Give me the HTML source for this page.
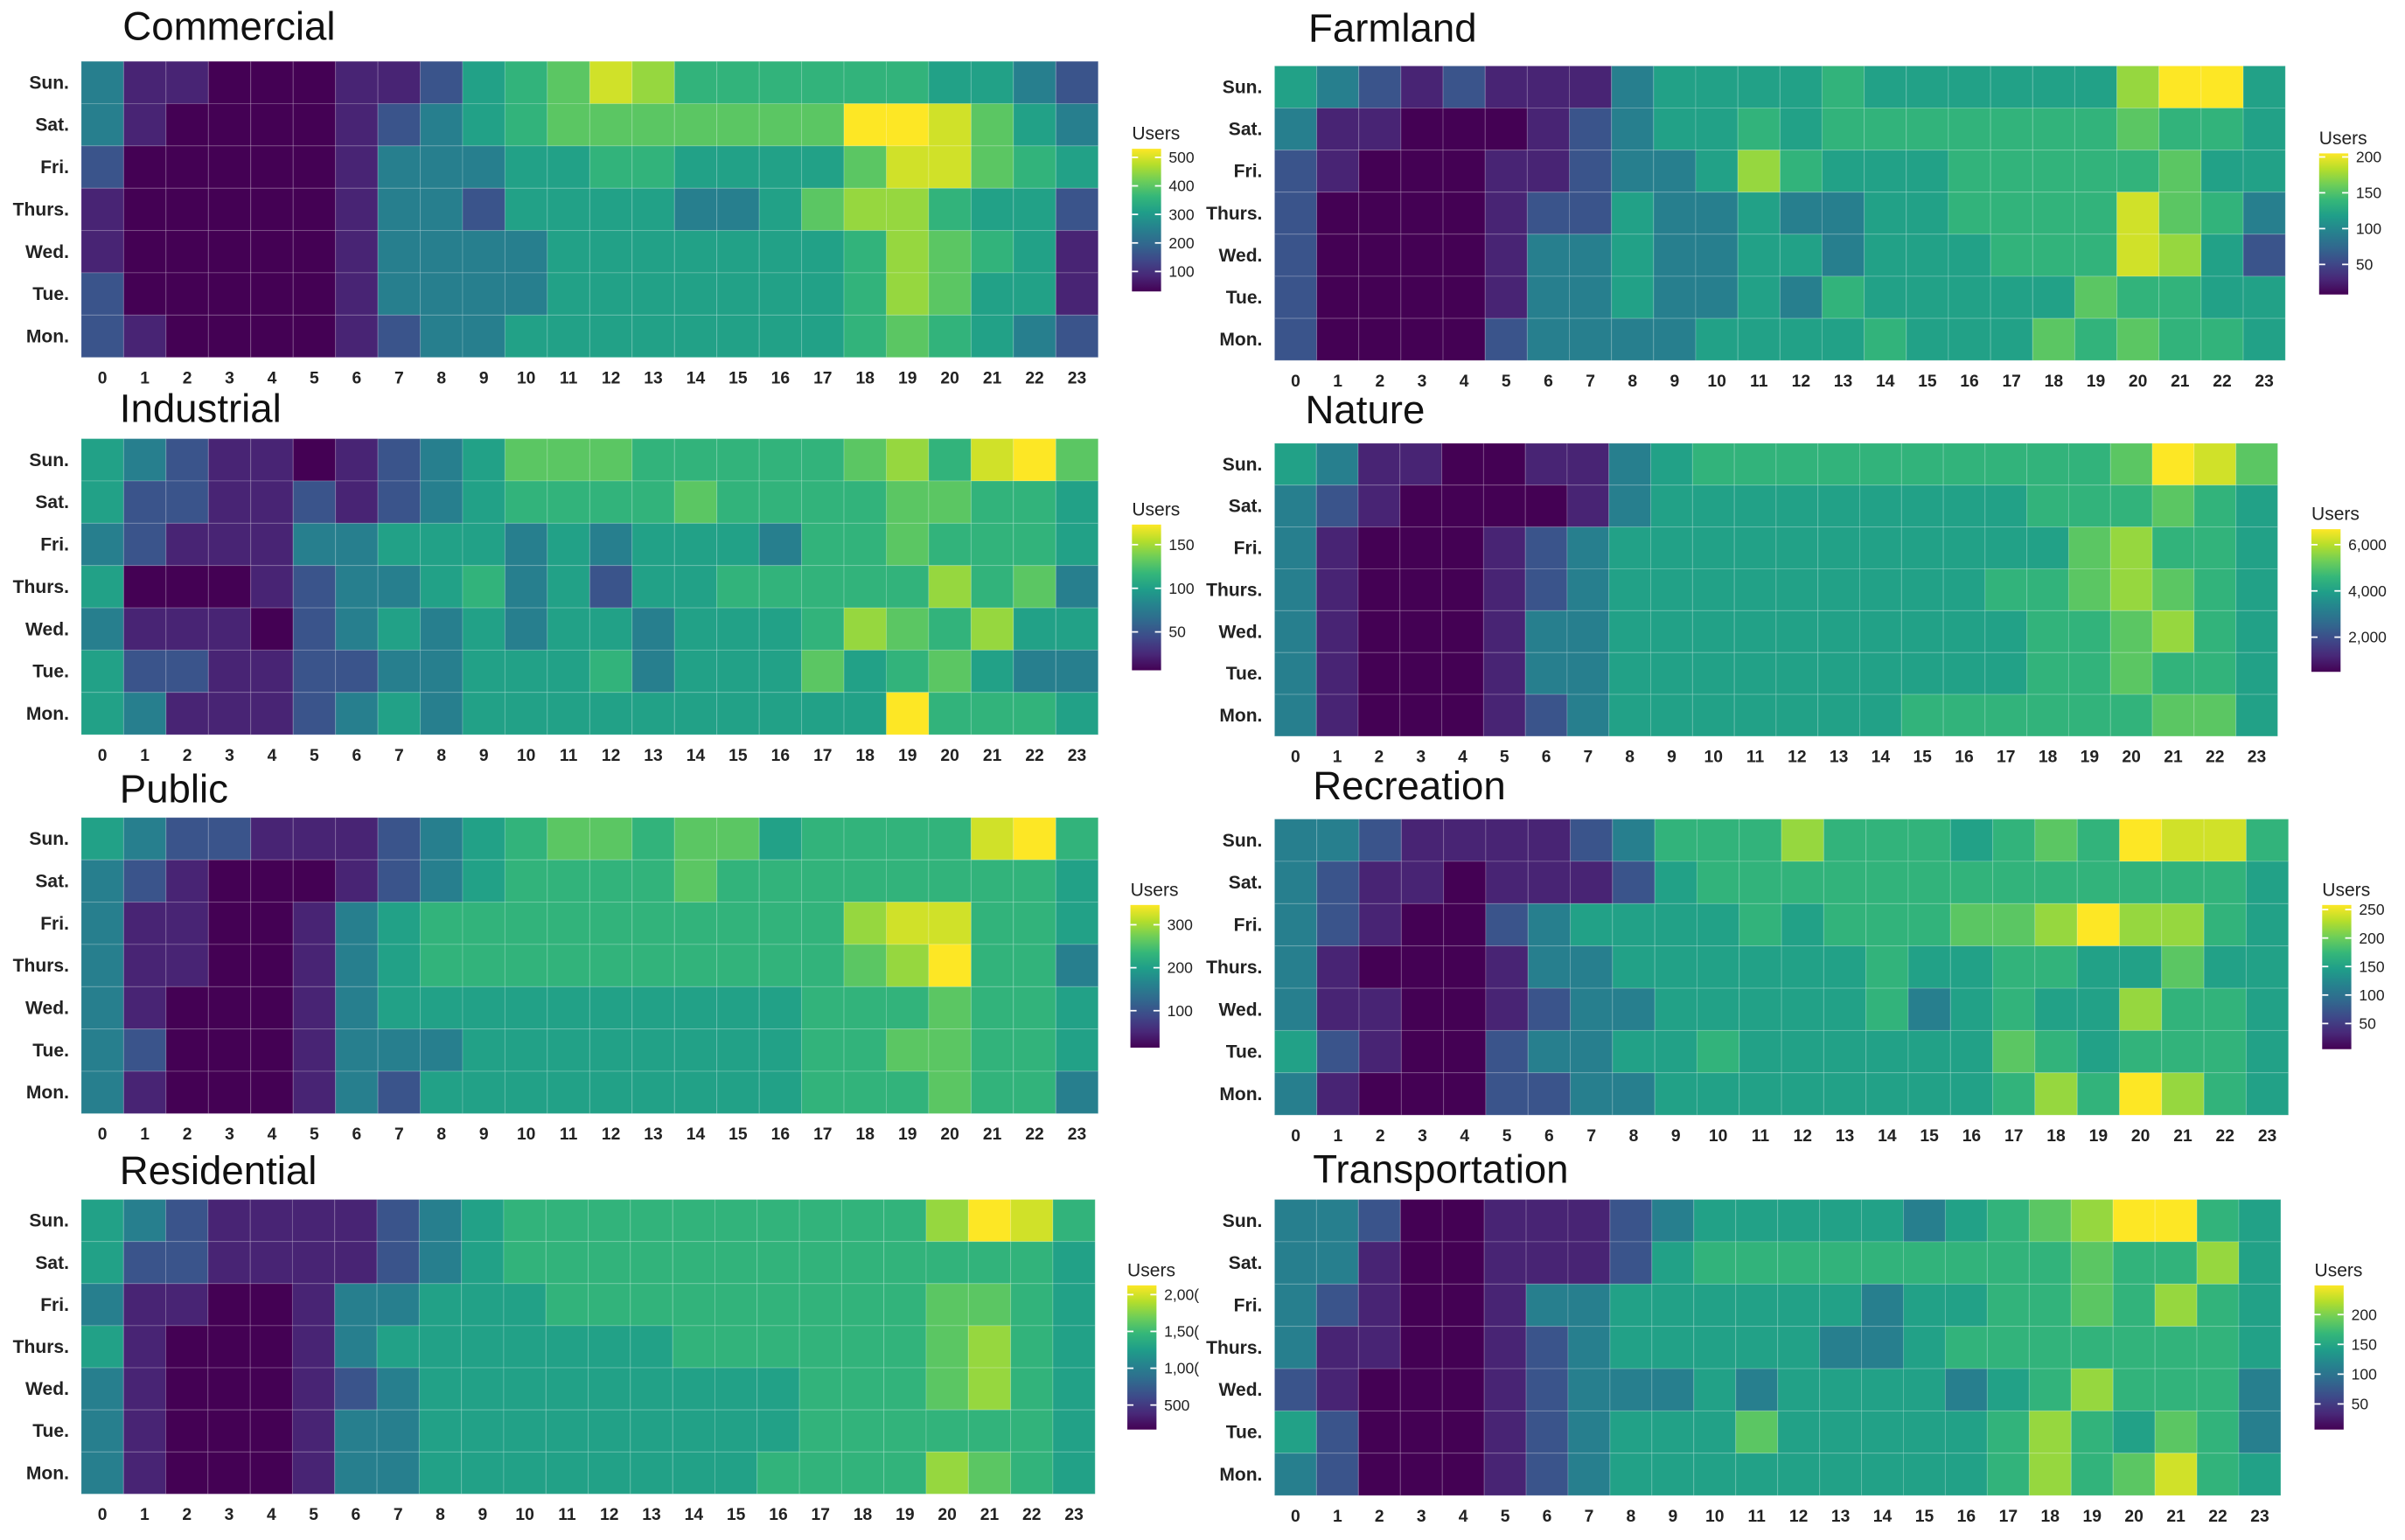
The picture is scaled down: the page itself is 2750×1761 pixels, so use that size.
<!DOCTYPE html>
<html><head><meta charset="utf-8"><style>
html,body{margin:0;padding:0;background:#fff;}
svg{display:block;font-family:"Liberation Sans",Arial,sans-serif;}
</style></head><body>
<svg id="chart" width="2750" height="1761" viewBox="0 0 1568 1004" preserveAspectRatio="none" xmlns="http://www.w3.org/2000/svg"></svg>
<script>
// Data: intensity levels 0..9 per day (rows Sun..Mon) x hour (0..23)
const days = ["Sun.","Sat.","Fri.","Thurs.","Wed.","Tue.","Mon."];
const hours = [0,1,2,3,4,5,6,7,8,9,10,11,12,13,14,15,16,17,18,19,20,21,22,23];
const panelNames = ["Commercial","Farmland","Industrial","Nature","Public","Recreation","Residential","Transportation"];
const commercialLevels = [
"311000112456875555554432","310000123456666666998643","200000133344554444688654","100000133244443346775442","100000133334444444576541","200000133334444444576441","210000123344444444565432"];
const farmlandLevels = [
"432121113444454444447994","311000123445455555556554","210001123347544455555644","200001224334334455558653","200001334334434445558742","200001334334354444465544","200002333344445444656554"];
const industrialLevels = [
"432110123466655555675896","422112123455556555566554","321113344434344435565554","400012334534244555557563","311102343434434445765744","422112233444534446456433","431112343444444444495554"];
const natureLevels = [
"431100113455555555556986","321000013444444444555654","310001234444444444467554","310001234444444445567654","310001334444444444556754","310001334444444444556554","310001234444444555555664"];
const publicLevels = [
"432211123456656645555895","321000123455556555555554","311001345555555555788554","311001345555555555679553","310001344444444445556554","320001333444444445566554","310001324444444445556553"];
const recreationLevels = [
"332111123555755545659885","321101112455555555555554","321002344445455566797754","310001334444445445544644","311001233444445345447554","421002334454444446545554","310002233444444445759754"];
const residentialLevels = [
"432111123455555555557985","422111123455555555555554","311001334445555555556654","410001344444445555556754","310001234444444445556754","310001334444444445555554","310001334444444455557654"];
const transportationLevels = [
"332001112344444345679954","331001112455555555565574","321001334444443445565754","311001234444433455555554","210001233343444434575553","420001234446444445754653","320001234444444445756854"];
const allLevels = [commercialLevels,farmlandLevels,industrialLevels,natureLevels,publicLevels,recreationLevels,residentialLevels,transportationLevels];
// legend ranges (Users) and tick labels
const legendMin = [30,8,6,500,14,5,167,7];
const legendMax = [530,205,173,6670,346,258,2125,249];
const legendTickValues = [[100,200,300,400,500],[50,100,150,200],[50,100,150],[2000,4000,6000],[100,200,300],[50,100,150,200,250],[500,1000,1500,2000],[50,100,150,200]];
const legendTickLabels = [["100","200","300","400","500"],["50","100","150","200"],["50","100","150"],["2,000","4,000","6,000"],["100","200","300"],["50","100","150","200","250"],["500","1,00(","1,50(","2,00("],["50","100","150","200"]];
// level -> colour position
const levelStops = [0,0.1,0.26,0.43,0.57,0.65,0.74,0.84,0.93,1];

const boxes = [
 {x:53,y:40,w:663,h:193,tx:80,ty:26,lx:738,ly:97,lh:93},
 {x:831,y:43,w:659,h:192,tx:853,ty:27,lx:1512,ly:100,lh:92},
 {x:53,y:286,w:663,h:193,tx:78,ty:275,lx:738,ly:342,lh:95},
 {x:831,y:289,w:654,h:191,tx:851,ty:276,lx:1507,ly:345,lh:93},
 {x:53,y:533,w:663,h:193,tx:78,ty:523,lx:737,ly:590,lh:93},
 {x:831,y:534,w:661,h:193,tx:856,ty:521,lx:1514,ly:590,lh:94},
 {x:53,y:782,w:661,h:192,tx:78,ty:772,lx:735,ly:838,lh:94},
 {x:831,y:782,w:656,h:193,tx:856,ty:771,lx:1509,ly:838,lh:94}];

const VIR=[[68,1,84],[72,40,120],[62,73,137],[49,104,142],[38,130,142],[31,158,137],[53,183,121],[110,206,88],[181,222,43],[253,231,37]];
function viridis(t){t=Math.max(0,Math.min(1,t));const p=t*9,i=Math.min(8,Math.floor(p)),f=p-i;const a=VIR[i],b=VIR[i+1];
 return "rgb("+a.map((v,k)=>Math.round(v+(b[k]-v)*f)).join(",")+")";}
const NS="http://www.w3.org/2000/svg";
const svg=document.getElementById("chart");
function mk(tag,attrs,parent){const e=document.createElementNS(NS,tag);for(const k in attrs)e.setAttribute(k,attrs[k]);(parent||svg).appendChild(e);return e;}

const defs=mk("defs",{});
const grad=mk("linearGradient",{id:"vir",x1:"0",y1:"1",x2:"0",y2:"0"},defs);
for(let i=0;i<=9;i++){mk("stop",{offset:(i/9),"stop-color":viridis(i/9)},grad);}

panelNames.forEach((name,pi)=>{
 const b=boxes[pi];
 const g=mk("g",{});
 
 
 const title=mk("text",{x:b.tx,y:b.ty,"font-size":26,fill:"#111"},g);
 title.textContent=name;
 
 
 const cw=b.w/hours.length,ch=b.h/days.length;
 const xScale=h=>b.x+h*cw, yScale=d=>b.y+d*ch;
 allLevels[pi].forEach((row,di)=>{
  for(let hi=0;hi<hours.length;hi++){
   const lv=parseInt(row[hi],10);
   const r=mk("rect",{x:xScale(hi),y:yScale(di),width:cw,height:ch,fill:viridis(levelStops[lv]),stroke:"rgba(255,255,255,0.18)","stroke-width":0.6},g);
   
   
  }
 });
 days.forEach((d,di)=>{
  const t=mk("text",{x:b.x-8,y:yScale(di)+ch/2+4,"font-size":12,"font-weight":"bold","text-anchor":"end",fill:"#222"},g);
  t.textContent=d;
  
  
 });
 hours.forEach((h,hi)=>{
  const t=mk("text",{x:xScale(hi)+cw/2,y:b.y+b.h+17,"font-size":11,"font-weight":"bold","text-anchor":"middle",fill:"#222"},g);
  t.textContent=h;
  
  
 });
 const lt=mk("text",{x:b.lx,y:b.ly-6,"font-size":12,fill:"#222"},g);
 lt.textContent="Users";
 
 
 const bar=mk("rect",{x:b.lx,y:b.ly,width:19,height:b.lh,fill:"url(#vir)"},g);
 
 
 const lyScale=v=>b.ly+b.lh-(v-legendMin[pi])/(legendMax[pi]-legendMin[pi])*b.lh;
 legendTickValues[pi].forEach((v,ti)=>{
  const y=lyScale(v);
  mk("line",{x1:b.lx,x2:b.lx+4,y1:y,y2:y,stroke:"#fff","stroke-width":1},g);
  mk("line",{x1:b.lx+15,x2:b.lx+19,y1:y,y2:y,stroke:"#fff","stroke-width":1},g);
  const t=mk("text",{x:b.lx+24,y:y+3.5,"font-size":10,fill:"#222"},g);
  t.textContent=legendTickLabels[pi][ti];
  
  
 });
});
</script>
</body></html>
